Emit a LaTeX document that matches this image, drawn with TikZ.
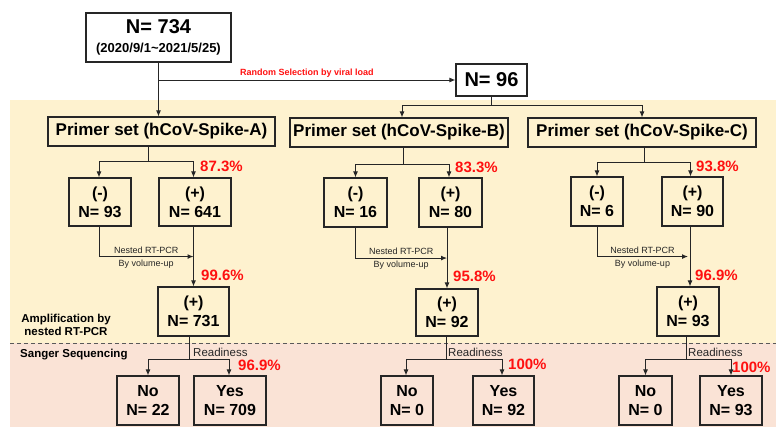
\documentclass[tikz,border=0pt]{standalone}
\usepackage{fontspec}
\setmainfont{Liberation Sans}
\usetikzlibrary{arrows.meta,calc}
\definecolor{bgY}{HTML}{FEF2CF}
\definecolor{bgP}{HTML}{FAE3D6}
\definecolor{pctred}{HTML}{FF1010}
\begin{document}
\begin{tikzpicture}[x=1pt,y=-1pt,
  box/.style={draw=black!85, line width=1.1pt, inner sep=0pt, align=center, font=\bfseries\fontsize{16}{19}\selectfont},
  conn/.style={draw=black!85, line width=1pt},
  arr/.style={conn, -{Latex[length=6pt,width=5pt]}},
  pct/.style={text=pctred, font=\bfseries\fontsize{15}{18}\selectfont, anchor=base west, inner sep=0pt},
  small/.style={font=\fontsize{9}{11}\selectfont, text=black!85, inner sep=2.5pt},
  ready/.style={font=\fontsize{11.5}{13}\selectfont, text=black!85, anchor=base west, inner sep=0pt},
  side/.style={font=\bfseries\fontsize{11.5}{13}\selectfont, align=center, inner sep=0pt}
]
\useasboundingbox (0,0) rectangle (776,428);
\fill[bgY] (10,100) rectangle (776,343);
\fill[bgP] (10,343) rectangle (776,427);
\draw[black!65, dash pattern=on 4pt off 3pt, line width=0.9pt] (10,343) -- (776,343);

% top
\node[box, minimum width=145pt, minimum height=49pt, font=\bfseries\fontsize{13}{19}\selectfont] (top) at (158.5,37.5) {{\fontsize{20}{19}\selectfont N= 734}\\(2020/9/1\textasciitilde 2021/5/25)};
\node[box, minimum width=71pt, minimum height=32pt, font=\bfseries\fontsize{20}{22}\selectfont] (n96) at (491.5,80) {N= 96};

% primers
\node[box, minimum width=227pt, minimum height=29pt, font=\bfseries\fontsize{17}{20}\selectfont] (pA) at (161.5,131.5) {Primer set (hCoV-Spike-A)};
\node[box, minimum width=218pt, minimum height=29pt, font=\bfseries\fontsize{17}{20}\selectfont] (pB) at (399,132.5) {Primer set (hCoV-Spike-B)};
\node[box, minimum width=228pt, minimum height=29pt, font=\bfseries\fontsize{17}{20}\selectfont] (pC) at (642,132.5) {Primer set (hCoV-Spike-C)};

% first results
\node[box, minimum width=62pt, minimum height=48pt] (mA) at (100,202) {(-)\\N= 93};
\node[box, minimum width=72pt, minimum height=48pt] (ppA) at (195,202) {(+)\\N= 641};
\node[box, minimum width=63pt, minimum height=49pt] (mB) at (355.5,202.5) {(-)\\N= 16};
\node[box, minimum width=63pt, minimum height=49pt] (ppB) at (450.5,202.5) {(+)\\N= 80};
\node[box, minimum width=52pt, minimum height=49pt] (mC) at (597,201.5) {(-)\\N= 6};
\node[box, minimum width=61pt, minimum height=49pt] (ppC) at (692.5,201.5) {(+)\\N= 90};

% amplification
\node[box, minimum width=71pt, minimum height=49pt] (amA) at (193.5,311.5) {(+)\\N= 731};
\node[box, minimum width=62pt, minimum height=47pt] (amB) at (447,312.5) {(+)\\N= 92};
\node[box, minimum width=62pt, minimum height=49pt] (amC) at (688,311.5) {(+)\\N= 93};

% sequencing
\node[box, minimum width=62pt, minimum height=49pt] (noA) at (148,400.5) {No\\N= 22};
\node[box, minimum width=72pt, minimum height=49pt] (yesA) at (230,400.5) {Yes\\N= 709};
\node[box, minimum width=52pt, minimum height=49pt] (noB) at (407,400.5) {No\\N= 0};
\node[box, minimum width=61pt, minimum height=49pt] (yesB) at (503.5,400.5) {Yes\\N= 92};
\node[box, minimum width=53pt, minimum height=49pt] (noC) at (645.5,400.5) {No\\N= 0};
\node[box, minimum width=62pt, minimum height=49pt] (yesC) at (731,400.5) {Yes\\N= 93};

% side labels
\node[side] (amp) at (66,325) {Amplification by\\nested RT-PCR};
\node[side, anchor=base west] (sang) at (20,357) {Sanger Sequencing};

% top connectors
\coordinate (jTop) at (top.south |- n96.west);
\draw[arr] (top.south) -- (top.south |- pA.north);
\draw[arr] (jTop) -- node[above, inner sep=2pt, text=pctred, font=\bfseries\fontsize{9}{11}\selectfont] {Random Selection by viral load} (n96.west);
\coordinate (j96) at ([yshift=-9pt]n96.south);
\draw[conn] (n96.south) -- (j96);
\draw[arr] (j96) -| ([xshift=3pt]pB.north);
\draw[arr] (j96) -| (pC.north);

% primer branches
\coordinate (jA) at ([xshift=-13.5pt,yshift=-15pt]pA.south);
\draw[conn] (pA.south -| jA) -- (jA);
\draw[arr] (jA) -| ([xshift=-1pt]mA.north);
\draw[arr] (jA) -| ([xshift=-1.5pt]ppA.north);
\coordinate (jB) at ([xshift=4pt,yshift=-16.5pt]pB.south);
\draw[conn] (pB.south -| jB) -- (jB);
\draw[arr] (jB) -| (mB.north);
\draw[arr] (jB) -| ([xshift=-1.5pt]ppB.north);
\coordinate (jC) at ([xshift=2pt,yshift=-14.5pt]pC.south);
\draw[conn] (pC.south -| jC) -- (jC);
\draw[arr] (jC) -| (mC.north);
\draw[arr] (jC) -| ([xshift=-2pt]ppC.north);

\node[pct] (pc1) at ([xshift=5pt,yshift=6pt]ppA.north) {87.3\%};
\node[pct] (pc2) at ([xshift=4.5pt,yshift=5pt]ppB.north) {83.3\%};
\node[pct] (pc3) at ([xshift=3.5pt,yshift=5pt]ppC.north) {93.8\%};

% nested
\path (amA.north |- mA.south) ++(0,30) coordinate (nA);
\draw[arr] ([xshift=-1pt]mA.south) |- node[pos=0.75, above, small] {Nested RT-PCR} node[pos=0.75, below, small] {By volume-up} (nA);
\draw[arr] (ppA.south -| amA.north) -- (amA.north);
\path (amB.north |- mB.south) ++(0,30.5) coordinate (nB);
\draw[arr] (mB.south) |- node[pos=0.75, above, small] {Nested RT-PCR} node[pos=0.75, below, small] {By volume-up} (nB);
\draw[arr] (ppB.south -| amB.north) -- (amB.north);
\path (amC.north |- mC.south) ++(0,30) coordinate (nC);
\draw[arr] (mC.south) |- node[pos=0.75, above, small] {Nested RT-PCR} node[pos=0.75, below, small] {By volume-up} (nC);
\draw[arr] ([xshift=2pt]ppC.south -| amC.north) -- ([xshift=2pt]amC.north);

\node[pct] (pc4) at ([xshift=7.5pt,yshift=6pt]amA.north) {99.6\%};
\node[pct] (pc5) at ([xshift=6pt,yshift=7pt]amB.north) {95.8\%};
\node[pct] (pc6) at ([xshift=7pt,yshift=6pt]amC.north) {96.9\%};

% readiness
\coordinate (jbA) at ([xshift=-4.5pt,yshift=-23pt]amA.south);
\draw[conn] (amA.south -| jbA) -- (jbA);
\draw[arr] (jbA) -| (noA.north);
\draw[arr] (jbA) -| ([xshift=-1pt]yesA.north);
\node[ready] (rA) at ([xshift=4pt,yshift=3pt]jbA) {Readiness};
\coordinate (jbB) at ([xshift=-1pt,yshift=-23pt]amB.south);
\draw[conn] (amB.south -| jbB) -- (jbB);
\draw[arr] (jbB) -| ([xshift=-1pt]noB.north);
\draw[arr] (jbB) -| ([xshift=-1.5pt]yesB.north);
\node[ready] (rB) at ([xshift=2pt,yshift=3pt]jbB) {Readiness};
\coordinate (jbC) at ([xshift=-2pt,yshift=-23pt]amC.south);
\draw[conn] (amC.south -| jbC) -- (jbC);
\draw[arr] (jbC) -| (noC.north);
\draw[arr] (jbC) -| (yesC.north);
\node[ready] (rC) at ([xshift=2pt,yshift=3pt]jbC) {Readiness};

\node[pct] (pc7) at ([xshift=8pt,yshift=5pt]yesA.north) {96.9\%};
\node[pct] (pc8) at ([xshift=4.5pt,yshift=6pt]yesB.north) {100\%};
\node[pct] (pc9) at ([xshift=1pt,yshift=3pt]yesC.north) {100\%};
\end{tikzpicture}
\end{document}
